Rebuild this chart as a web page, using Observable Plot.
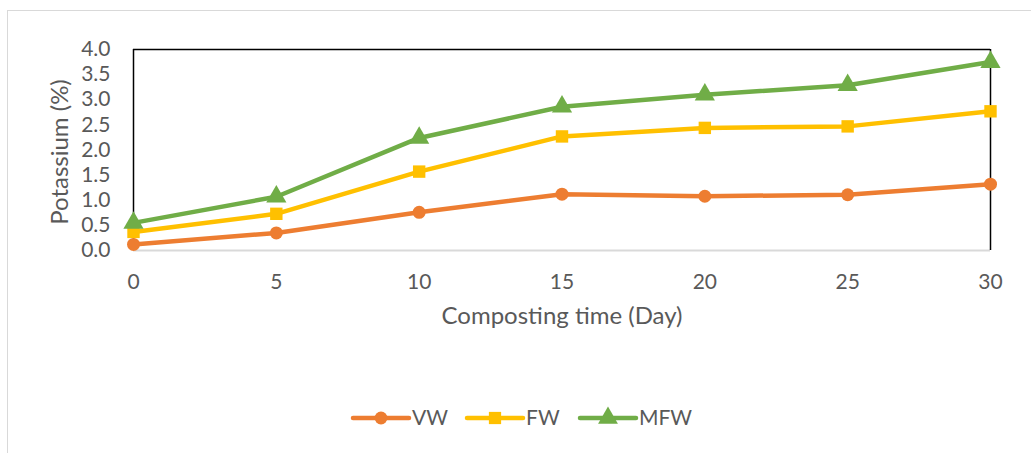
<!DOCTYPE html>
<html><head><meta charset="utf-8">
<script src="https://cdn.jsdelivr.net/npm/d3@7"></script>
<script src="https://cdn.jsdelivr.net/npm/@observablehq/plot@0.6"></script>
<style>
body{margin:0;background:#fff;font-family:Lato,"Open Sans",sans-serif;}
#wrap{position:relative;width:1031px;height:453px;overflow:hidden;}
#border{position:absolute;left:7px;top:10px;width:1040px;height:480px;border:1px solid #d9d9d9;box-sizing:border-box;}
#chart{position:absolute;left:0;top:0;}
#legend{position:absolute;top:404px;left:0;width:1031px;height:30px;}
</style></head>
<body>
<div id="wrap"><div id="border"></div><div id="chart"></div><svg id="legend" width="1031" height="30"></svg></div>
<script>
const days = [0, 5, 10, 15, 20, 25, 30];
const vw = [0.12, 0.35, 0.76, 1.12, 1.08, 1.11, 1.32];
const fw = [0.37, 0.73, 1.57, 2.27, 2.44, 2.47, 2.77];
const mfw = [0.55, 1.07, 2.24, 2.86, 3.10, 3.29, 3.75];
const seriesNames = ["VW", "FW", "MFW"];
const colors = ["#ED7D31", "#FFC000", "#70AD47"];
const symbols = ["circle", "square", "triangle"];
const yTicks = [0, 0.5, 1, 1.5, 2, 2.5, 3, 3.5, 4];
const xLabel = "Composting time (Day)";
const yLabel = "Potassium (%)";

const allSeries = [vw, fw, mfw];
const data = [];
allSeries.forEach((vals, s) => vals.forEach((v, i) => data.push({series: seriesNames[s], day: days[i], value: v})));

const textColor = "#595959";
const marks = [
  Plot.ruleY([0], {stroke: "#d9d9d9", strokeWidth: 2}),
  Plot.ruleY([4], {stroke: "#000", strokeWidth: 1.5}),
  Plot.ruleX([0, 30], {stroke: "#000", strokeWidth: 1.5}),
  Plot.axisX({ticks: days, tickSize: 0, tickPadding: 24, fontSize: 21, fill: textColor}),
  Plot.axisY({ticks: yTicks, tickFormat: d3.format(".1f"), tickSize: 0, tickPadding: 23, fontSize: 21, fill: textColor}),
  Plot.text([xLabel], {frameAnchor: "bottom", dy: 73, fontSize: 24, fill: textColor}),
  Plot.text([yLabel], {frameAnchor: "left", textAnchor: "middle", rotate: -90, dx: -73, dy: 2, fontSize: 24, fill: textColor})
];
seriesNames.forEach((name, s) => {
  const d = data.filter(r => r.series === name);
  marks.push(Plot.line(d, {x: "day", y: "value", stroke: colors[s], strokeWidth: 4.5}));
  marks.push(Plot.dot(d, {x: "day", y: "value", fill: colors[s], stroke: "none", symbol: symbols[s], r: s === 0 ? 6.5 : (s === 1 ? 7 : 7.5)}));
});

const chart = Plot.plot({
  width: 1031, height: 340,
  marginLeft: 133, marginRight: 41, marginTop: 49, marginBottom: 90,
  style: {fontFamily: "Lato, 'Open Sans', sans-serif", background: "transparent", color: textColor, overflow: "visible"},
  x: {domain: [0, 30], label: null, axis: null},
  y: {domain: [0, 4], label: null, axis: null},
  marks
});
document.getElementById("chart").appendChild(chart);

// legend
const lg = d3.select("#legend");
const legendX = [353, 467, 580];
seriesNames.forEach((name, s) => {
  const x0 = legendX[s], cy = 14;
  lg.append("line").attr("x1", x0).attr("x2", x0 + 56).attr("y1", cy).attr("y2", cy)
    .attr("stroke", colors[s]).attr("stroke-width", 4.5).attr("stroke-linecap", "round");
  const sym = d3.symbol().type([d3.symbolCircle, d3.symbolSquare, d3.symbolTriangle][s]).size([130, 150, 170][s]);
  lg.append("path").attr("d", sym()).attr("transform", `translate(${x0 + 28},${cy})`).attr("fill", colors[s]);
  lg.append("text").attr("x", x0 + 59).attr("y", cy).attr("dy", "0.35em").attr("fill", textColor)
    .attr("font-size", 21).attr("font-family", "Lato, 'Open Sans', sans-serif").text(name);
});
</script>
</body></html>
